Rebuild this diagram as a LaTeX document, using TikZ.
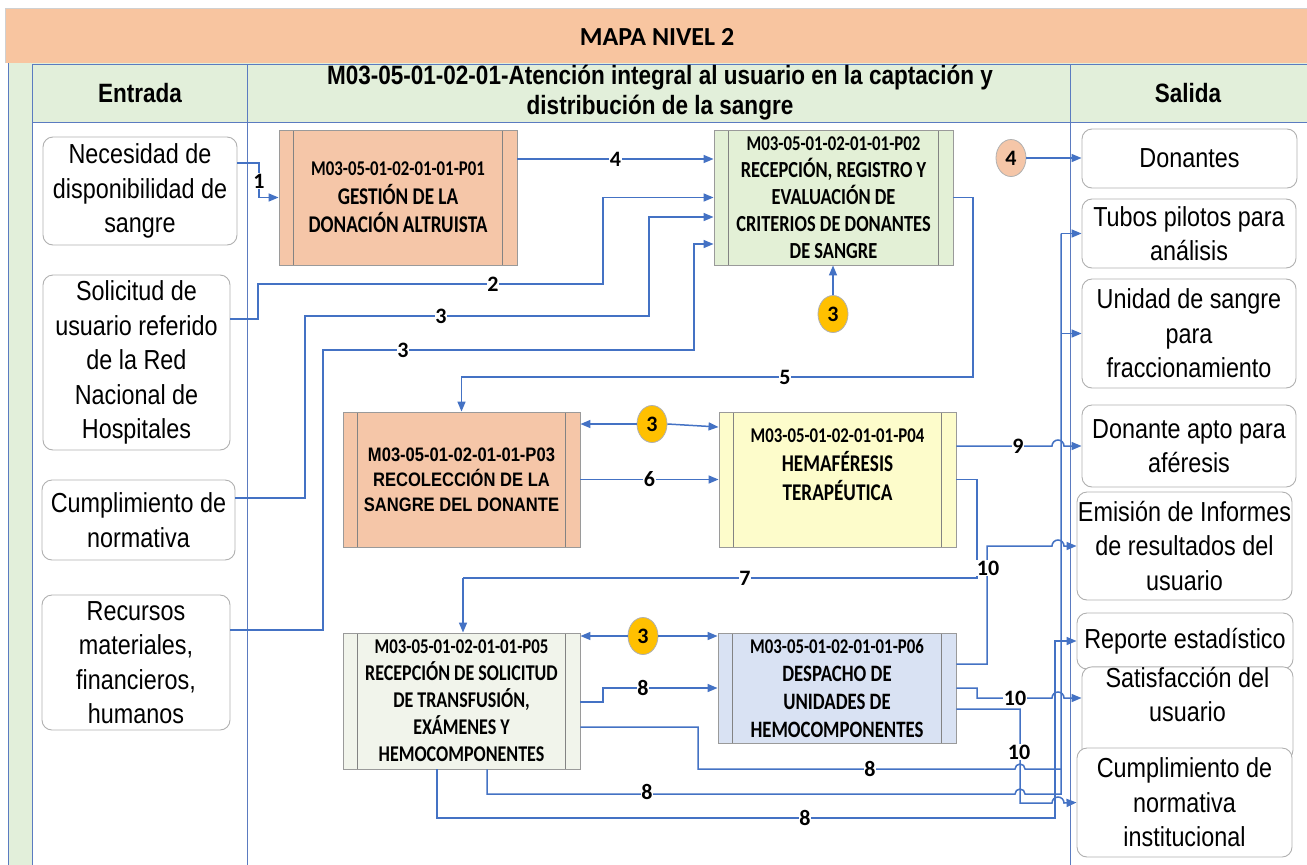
\documentclass[tikz,border=0pt]{standalone}
\usepackage{fontspec}
\usetikzlibrary{arrows.meta,shapes.geometric,calc}
\newfontfamily\narrow[FakeStretch=0.85]{Liberation Sans}
\newfontfamily\calib[FakeStretch=0.8]{Carlito}
\newfontfamily\calibw{Carlito}
\definecolor{lineblue}{HTML}{4472C4}
\definecolor{tblue}{HTML}{5B7BC0}
\definecolor{peach}{HTML}{F8C5A0}
\definecolor{hgreen}{HTML}{E2EFDA}
\definecolor{boxgray}{HTML}{B0B0B0}
\definecolor{procgray}{HTML}{9A9A9A}
\definecolor{pone}{HTML}{F5C6A8}
\definecolor{ptwo}{HTML}{E3F0D6}
\definecolor{pfour}{HTML}{FDFCCB}
\definecolor{pfive}{HTML}{F1F4EB}
\definecolor{psix}{HTML}{D9E2F3}
\definecolor{yel}{HTML}{FFC000}
\tikzset{
  inbox/.style={draw=boxgray, line width=0.9pt, rounded corners=10pt, fill=white,
    align=center, inner sep=0pt, font=\narrow\fontsize{27.5}{34.5}\selectfont},
  proc/.style={draw=procgray, line width=0.9pt, align=center, inner sep=0pt,
    font=\calib\bfseries\fontsize{23}{27.5}\selectfont,
    path picture={\draw[procgray!85!black, line width=0.8pt]
      ([xshift=14.5pt]path picture bounding box.north west) -- ([xshift=14.5pt]path picture bounding box.south west)
      ([xshift=-14.5pt]path picture bounding box.north east) -- ([xshift=-14.5pt]path picture bounding box.south east);}},
  circ/.style={ellipse, draw=boxgray, line width=0.8pt, minimum width=30pt, minimum height=37pt,
    inner sep=0pt, font=\calibw\bfseries\fontsize{22}{22}\selectfont},
  conn/.style={draw=lineblue, line width=1.5pt, -{Triangle[length=10pt,width=8pt]}},
  plain/.style={draw=lineblue, line width=1.5pt},
  lab/.style={font=\calibw\bfseries\fontsize{22}{22}\selectfont, fill=white, inner sep=0.6pt},
  hdr/.style={font=\narrow\bfseries\fontsize{26.5}{30}\selectfont, align=center}
}
\newcommand{\ttl}[1]{{\fontsize{21}{25}\selectfont #1}}
\begin{document}
\begin{tikzpicture}[x=1pt,y=-1pt]
\useasboundingbox (0,0) rectangle (1307,865);
\fill[white] (0,0) rectangle (1307,865);
% table
\fill[peach] (5,8) rectangle (1307,63);
\draw[boxgray!60, line width=0.8pt] (5,63) -- (5,8) -- (1307,8);
\fill[hgreen] (8,63) rectangle (1307,122);
\fill[hgreen] (8,122) rectangle (32,865);
\draw[tblue, line width=0.9pt] (8,63) -- (8,865) (32,64) -- (32,865) (247,64) -- (247,865)
  (1070,64) -- (1070,865) (32,64) -- (1307,64) (32,122) -- (1307,122);
\node[font=\calibw\bfseries\fontsize{26}{30}\selectfont] (mapa) at (657,37) {MAPA NIVEL 2};
\node[hdr] (head) at (660,93) {M03-05-01-02-01-Atención integral al usuario en la captación y\\distribución de la sangre};
\node[hdr] (entrada) at (140,93) {Entrada};
\node[hdr] (salida) at (1188,93) {Salida};
% inputs
\node[inbox, minimum width=194pt, minimum height=108pt] (in1) at (140,191) {Necesidad de\\disponibilidad de\\sangre};
\node[inbox, minimum width=187pt, minimum height=175pt] (in2) at (136.5,362.5) {Solicitud de\\usuario referido\\de la Red\\Nacional de\\Hospitales};
\node[inbox, minimum width=193pt, minimum height=80pt] (in3) at (138.5,520) {Cumplimiento de\\normativa};
\node[inbox, minimum width=188pt, minimum height=135pt] (in4) at (136,662.5) {Recursos\\materiales,\\financieros,\\humanos};
% outputs
\node[inbox, minimum width=215pt, minimum height=59pt] (o1) at (1189.5,158.5) {Donantes};
\node[inbox, minimum width=214pt, minimum height=69pt] (o2) at (1189,233.5) {Tubos pilotos para\\análisis};
\node[inbox, minimum width=214pt, minimum height=109pt] (o3) at (1189,333.5) {Unidad de sangre\\para\\fraccionamiento};
\node[inbox, minimum width=214pt, minimum height=82pt] (o4) at (1189,446) {Donante apto para\\aféresis};
\node[inbox, minimum width=215pt, minimum height=108pt] (o5) at (1184.5,546) {Emisión de Informes\\de resultados del\\usuario};
\node[inbox, minimum width=216pt, minimum height=56pt] (o6) at (1185,641) {Reporte estadístico};
\node[inbox, minimum width=211pt, minimum height=57pt] (o7) at (1187.5,713.5) {Satisfacción del\\usuario\\[4pt]\mbox{}};
\node[inbox, minimum width=215pt, minimum height=109pt] (o8) at (1184.5,802.5) {Cumplimiento de\\normativa\\institucional};
% processes
\node[proc, fill=pone, minimum width=238pt, minimum height=135pt, font=\calib\bfseries\fontsize{24}{28.5}\selectfont] (P01) at (398,197.5)
  {\ttl{M03-05-01-02-01-01-P01}\\GESTIÓN DE LA\\DONACIÓN ALTRUISTA};
\node[proc, fill=ptwo, minimum width=239pt, minimum height=135pt, font=\calib\bfseries\fontsize{23}{27}\selectfont] (P02) at (833.5,197.5)
  {\ttl{M03-05-01-02-01-01-P02}\\RECEPCIÓN, REGISTRO Y\\EVALUACIÓN DE\\CRITERIOS DE DONANTES\\DE SANGRE};
\node[proc, fill=pone, minimum width=237pt, minimum height=135pt, font=\narrow\bfseries\fontsize{19.5}{25}\selectfont] (P03) at (461.5,479.5)
  {M03-05-01-02-01-01-P03\\RECOLECCIÓN DE LA\\SANGRE DEL DONANTE};
\node[proc, fill=pfour, minimum width=237pt, minimum height=135pt, font=\calib\bfseries\fontsize{24}{29}\selectfont] (P04) at (837.5,479.5)
  {\ttl{M03-05-01-02-01-01-P04}\\HEMAFÉRESIS\\TERAPÉUTICA\\\mbox{}};
\node[proc, fill=pfive, minimum width=237pt, minimum height=136pt, font=\calib\bfseries\fontsize{22.5}{27}\selectfont] (P05) at (461.5,701)
  {\ttl{M03-05-01-02-01-01-P05}\\RECEPCIÓN DE SOLICITUD\\DE TRANSFUSIÓN,\\EXÁMENES Y\\HEMOCOMPONENTES};
\node[proc, fill=psix, minimum width=238pt, minimum height=110pt, font=\calib\bfseries\fontsize{23.5}{28}\selectfont] (P06) at (837,688)
  {\ttl{M03-05-01-02-01-01-P06}\\DESPACHO DE\\UNIDADES DE\\HEMOCOMPONENTES};
% circles
\node[circ, fill=yel] (c3a) at (833,314) {3};
\node[circ, fill=pone] (c4) at (1011,158) {4};
\node[circ, fill=yel] (c3b) at (652,424) {3};
\node[circ, fill=yel] (c3c) at (643,636) {3};
% connectors top
\draw[conn] ([yshift=28pt]in1.east) -- (259,163) |- (P01.west);
\node[lab] (l1) at (259,181) {1};
\draw[conn] ([yshift=38.5pt]P01.east) -- node[lab] (l4) {4} ([yshift=38.5pt]P02.west);
\draw[conn] ([yshift=43.5pt]in2.east) -- (258,319) -- (258,284) -- (603,284) |- (P02.west);
\node[lab] (l2) at (493,284) {2};
\draw[conn] ([yshift=22pt]in3.east) -- (305,498) -- (305,316) -- (649,316) |- ([yshift=-19.5pt]P02.west);
\node[lab] (l3a) at (441,316) {3};
\draw[conn] ([yshift=32.5pt]in4.east) -- (323,630) -- (323,350) -- (694,350) |- ([yshift=-46.5pt]P02.west);
\node[lab] (l3b) at (403,350) {3};
\draw[conn] (c3a.north) -- (c3a.north |- P02.south);
\draw[conn] (c4.east) -- (c4.east -| o1.west);
\draw[conn] (P02.east) -- (973,197.5) -- (973,377) -| (P03.north);
\node[lab] (l5) at (785,377) {5};
% middle
\draw[conn] (c3b.west) -- (c3b.west -| P03.east);
\draw[conn] (c3b.east) -- ([yshift=52.5pt]P04.west);
\draw[conn] (P03.east) -- node[lab] (l6) {6} (P04.west);
\draw[conn] ([yshift=33.5pt]P04.east) -- (1052,446) arc[start angle=180,end angle=0,radius=6pt] -- (o4.west);
\node[lab] (l9) at (1018,446) {9};
\draw[plain] (P04.east) -- (977,479.5) -- (977,578) -- (463,578);
\draw[conn] (463,578) -- (P05.north -| 463,0);
\node[lab] (l7) at (745,578) {7};
\draw[conn] ([yshift=24pt]P06.east) -- (987,664) -- (987,546) -- (1052,546) arc[start angle=180,end angle=0,radius=6pt] -- (o5.west);
\node[lab] (l10a) at (988,568) {10};
% bottom
\draw[conn] (c3c.west) -- (c3c.west -| P05.east);
\draw[conn] (c3c.east) -- (c3c.east -| P06.west);
\draw[conn] ([yshift=-1pt]P05.east) -- (603,702) |- (P06.west);
\node[lab] (l8a) at (643,688) {8};
\draw[conn] (P06.east) -- (977,688) -- (977,698) -- (1052,698) arc[start angle=180,end angle=0,radius=6pt] -- ([yshift=15.5pt]o7.west);
\node[lab] (l10b) at (1015,698) {10};
\draw[conn] ([yshift=-21pt]P06.east) -- (1020,709) -- (1020,803) -- (1052,803) arc[start angle=180,end angle=0,radius=6pt] -- (o8.west);
\coordinate (tR) at (1061,233.5);
\draw[plain] ([yshift=-26pt]P05.east) -- (698,727) -- (698,769) -- (1015,769) arc[start angle=180,end angle=0,radius=5pt] -- (1061,769);
\draw[plain] ([xshift=25.5pt]P05.south) -- (487,794) -- (1015,794) arc[start angle=180,end angle=0,radius=5pt] -- (1061,794) -- (tR);
\draw[conn] (tR) -- (o2.west);
\draw[conn] (tR |- o3.west) -- (o3.west);
\draw[conn] ([xshift=-24.5pt]P05.south) -- (437,818) -- (1055,818) |- (o6.west);
\node[lab] (l10c) at (1019,752) {10};
\node[lab] (l8b) at (870,769) {8};
\node[lab] (l8c) at (647,792) {8};
\node[lab] (l8d) at (805,818) {8};
\end{tikzpicture}
\end{document}
